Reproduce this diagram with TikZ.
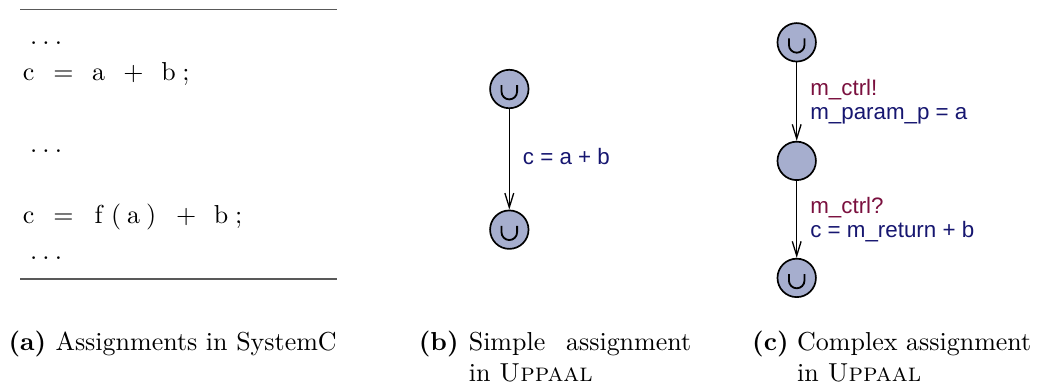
\documentclass[tikz,border=0pt]{standalone}
\usepackage{fontspec}
\usepackage{xcolor}
\usetikzlibrary{arrows.meta,positioning}
\newfontfamily\uppfont{Liberation Sans}
\definecolor{locfill}{RGB}{166,174,206}
\definecolor{syncc}{RGB}{122,16,62}
\definecolor{assignc}{RGB}{22,22,112}
% one listing column
\newlength{\lstcolw}
\setlength{\lstcolw}{6.74pt}
\newcommand{\lc}[1]{\makebox[\lstcolw]{#1}}
\newcommand{\ldts}{\makebox[3\lstcolw]{\hss.\hss.\hss.\hss}}

\begin{document}
\begin{tikzpicture}[
    x=0.385pt, y=-0.385pt,
    loc/.style={draw, circle, line width=0.65pt, fill=locfill,
      minimum size=14.8pt, inner sep=0pt},
    urgent/.style={loc, path picture={
        \draw[line width=0.7pt]
          ([shift={(-3pt,1.5pt)}]path picture bounding box.center)
          -- ++(0,-2.5pt) arc[start angle=180, end angle=360, radius=3pt]
          -- ++(0,2.5pt);}},
    trans/.style={-{Straight Barb[length=5.5pt, width=3.4pt]}, line width=0.5pt},
    lbl/.style={font=\uppfont\fontsize{8.6}{9.4}\selectfont, align=left,
      inner sep=0pt, anchor=west, xshift=5pt},
    code/.style={font=\fontsize{10}{12}\selectfont, inner sep=0pt, anchor=base west},
    frame/.style={line width=0.6pt, black!65},
    capt/.style={font=\normalsize, inner sep=0pt, anchor=base west}
  ]
    \useasboundingbox (0,0) rectangle (1038,387);

    % (a) SystemC listing
    \draw[frame] (20,9.3) -- (336.7,9.3);
    \node[code] (dots1) at (19.3,44.5) {\ldts};
    \node[code] (line1) at (19.3,80.3) {\lc{c}\lc{}\lc{=}\lc{}\lc{a}\lc{}\lc{+}\lc{}\lc{b}\lc{;}};
    \node[code] (dots2) at (19.3,152) {\ldts};
    \node[code] (line2) at (19.3,223.6) {\lc{c}\lc{}\lc{=}\lc{}\lc{f}\lc{(}\lc{a}\lc{)}\lc{}\lc{+}\lc{}\lc{b}\lc{;}};
    \node[code] (dots3) at (19.3,259.5) {\ldts};
    \draw[frame] (20,279) -- (336.7,279);

    % (b) simple assignment
    \node[urgent] (s0) at (509.3,89) {};
    \node[urgent, below=38.7pt of s0] (s1) {};
    \draw[trans] (s0) -- node[lbl, yshift=1.2pt, text=assignc] {c = a + b} (s1);

    % (c) complex assignment
    \node[urgent] (c0) at (796.7,42.3) {};
    \node[loc, below=30.2pt of c0] (c1) {};
    \node[urgent, below=29.6pt of c1] (c2) {};
    \draw[trans] (c0) -- node[lbl] {\textcolor{syncc}{m\_ctrl!}\\
      \textcolor{assignc}{m\_param\_p = a}} (c1);
    \draw[trans] (c1) -- node[lbl] {\textcolor{syncc}{m\_ctrl?}\\
      \textcolor{assignc}{c = m\_return + b}} (c2);

    % Captions
    \node[capt] (capa) at (8,350) {\textbf{(a)}};
    \node[capt] (capatext) at (55,350) {Assignments in SystemC};
    \node[capt] (capb) at (418.3,350) {\textbf{(b)}};
    \node[capt] (capbtext) at (468.3,350) {\makebox[85.6pt][s]{Simple assignment}};
    \node[capt] (capbtext2) at (468.3,381) {in \textsc{Uppaal}};
    \node[capt] (capc) at (751.7,350) {\textbf{(c)}};
    \node[capt] (capctext) at (796.7,350) {Complex assignment};
    \node[capt] (capctext2) at (796.7,381) {in \textsc{Uppaal}};
  \end{tikzpicture}
\end{document}
